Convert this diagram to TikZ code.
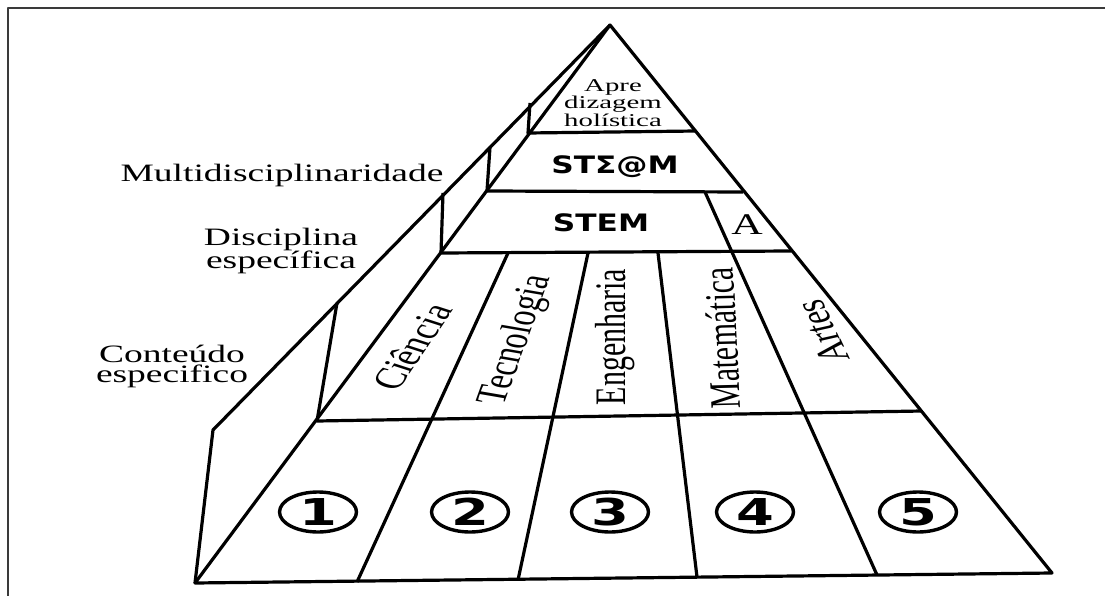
\documentclass[tikz,border=0pt]{standalone}
\usepackage{fontspec}
\setmainfont{Liberation Serif}
\newfontfamily\stemfont{DejaVu Sans}
\usetikzlibrary{positioning,shapes.geometric,calc}
\definecolor{framegray}{HTML}{3A3A3A}
\newcommand{\stretchx}[2][1.45]{\scalebox{#1}[1]{#2}}

\begin{document}
\begin{tikzpicture}[x=1pt, y=-1pt, line join=round,
    edge/.style={line width=3.2pt, black},
    sidelabel/.style={font=\fontsize{25}{20}\selectfont, align=center, inner sep=0pt},
    colname/.style={font=\fontsize{30}{30}\selectfont, inner sep=0pt},
    band/.style={font=\stemfont\bfseries\fontsize{24}{25}\selectfont, inner sep=0pt},
    badge/.style={ellipse, draw, line width=3.4pt, minimum width=77pt, minimum height=40pt,
        inner sep=0pt, font=\stemfont\bfseries\fontsize{37}{37}\selectfont}]
    \useasboundingbox (0,0) rectangle (1105,596);

    % Frame
    \draw[framegray, line width=1.2pt] (1105,8) -- (8,8) -- (8,596);

    % Pyramid corners
    \coordinate (apex) at (610,25);
    \coordinate (bl) at (195,583);
    \coordinate (br) at (1052,573);
    \coordinate (kink) at (213,430);

    % Outline and side panel
    \draw[edge] (apex) -- (br) -- (bl) -- cycle;
    \draw[edge] (bl) -- (kink) -- (apex);

    % Levels: outer point, inner point, right end
    \foreach \name/\ox/\oy/\ix/\iy/\rx/\ry in {top/530/103/528/133/696/131,
        steam/490/147/487/191/743/192, stem/443/193/441/253/791/251,
        base/337/303/317/421/922/411} {
        \coordinate (\name-out) at (\ox,\oy);
        \coordinate (\name-in) at (\ix,\iy);
        \coordinate (\name-end) at (\rx,\ry);
        \draw[edge] (\name-out) -- (\name-in) -- (\name-end);
    }

    % Column dividers
    \foreach \tx/\bx/\by in {508/357/582, 588/518/580, 658/697/577} {
        \draw[edge] (\tx,253) -- (\bx,\by);
    }
    \draw[edge] (705,192) -- (877,575);

    % Level names
    \node[sidelabel] (multi) at (282,175) {\stretchx[1.5]{Multidisciplinaridade}};
    \node[sidelabel] (disc) at (281,251) {\stretchx[1.5]{Disciplina}\\\stretchx[1.5]{específica}};
    \node[sidelabel] (cont) at (172,366) {\stretchx[1.5]{Conteúdo}\\\stretchx[1.5]{especifico}};

    % Top and bands
    \node[font=\fontsize{18}{15.5}\selectfont, align=center, inner sep=0pt] (holistic) at (613,103)
        {\stretchx[1.6]{Apre}\\\stretchx[1.6]{dizagem}\\\stretchx[1.6]{holística}};
    \node[band] (steam) at (615,167) {\stretchx[1.3]{STΣ@M}};
    \node[band] (stem) at (601,223) {\stretchx[1.3]{STEM}};
    \node[font=\fontsize{30}{30}\selectfont, inner sep=0pt] (arts) at (747,225) {\stretchx{A}};

    % Disciplines
    \node[colname] (sci) at (412,347) {\stretchx{\rotatebox{65}{Ciência}}};
    \node[colname] (tech) at (517,340) {\stretchx{\rotatebox{76}{Tecnologia}}};
    \node[colname] (eng) at (615,337) {\stretchx{\rotatebox{90}{Engenharia}}};
    \node[colname] (math) at (722,338) {\stretchx{\rotatebox{92}{Matemática}}};
    \node[colname] (art) at (822,332) {\stretchx{\rotatebox{108}{Artes}}};

    % Contents
    \foreach \n/\x in {1/318, 2/470, 3/610, 4/755, 5/918} {
        \node[badge] (num\n) at (\x,512) {\stretchx[1.47]{\n}};
    }
\end{tikzpicture}
\end{document}
